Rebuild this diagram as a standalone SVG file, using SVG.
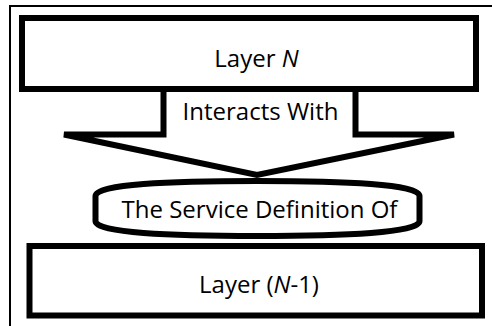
<svg xmlns="http://www.w3.org/2000/svg" width="492" height="326" viewBox="0 0 492 326">
  <style>
    .shape { fill: #ffffff; stroke: #000000; stroke-width: 6; }
    .label { font-family: "Open Sans", "Noto Sans", "DejaVu Sans", sans-serif; font-size: 24px; fill: #000000; text-anchor: middle; }
    .it { font-style: italic; }
  </style>
  <rect width="492" height="326" fill="#ffffff"/>
  <!-- frame -->
  <path d="M10,326 V6 H492" fill="none" stroke="#000000" stroke-width="2"/>

  <g id="layer-n">
    <rect class="shape" x="22" y="18" width="454" height="71"/>
    <text class="label" x="256.5" y="67">Layer <tspan class="it">N</tspan></text>
  </g>

  <g id="connectors">
    <g id="interacts-with">
      <polygon class="shape" points="163.5,89 163.5,134.5 64,134.5 257,175 454,134.5 355.5,134.5 355.5,89"/>
      <text class="label" x="260.5" y="119.5">Interacts With</text>
    </g>
  </g>

  <g id="service-definition">
    <path class="shape" d="M95.5,196 C95.5,184 170,181 257,181 C344,181 419.5,184 419.5,196 L419.5,221 C419.5,233 344,236 257,236 C170,236 95.5,233 95.5,221 Z"/>
    <text class="label" x="259.5" y="218">The Service Definition Of</text>
  </g>

  <g id="layer-n-1">
    <rect class="shape" x="29.5" y="246" width="452.5" height="69.5"/>
    <text class="label" x="259" y="293">Layer (<tspan class="it">N</tspan>-1)</text>
  </g>
</svg>
